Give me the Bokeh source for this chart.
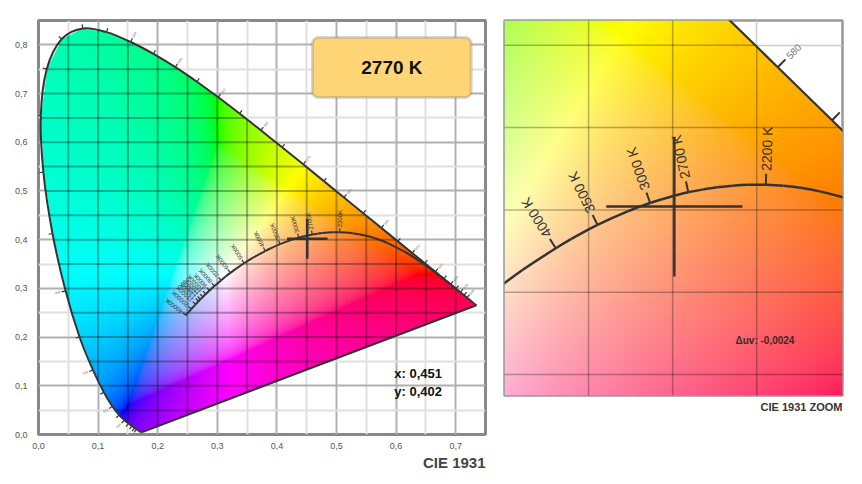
import numpy as np
from bokeh.plotting import figure
from bokeh.models import Range1d, FixedTicker, CustomJSTickFormatter, Title, Label, BoxAnnotation
from bokeh.layouts import row
from bokeh.core.properties import value
from bokeh.embed import file_html
from bokeh.resources import INLINE

# ---------------- data ----------------
WAVELENGTHS = [380, 385, 390, 395, 400, 405, 410, 415, 420, 425, 430, 435, 440, 445, 450, 455,
               460, 465, 470, 475, 480, 485, 490, 495, 500, 505, 510, 515, 520, 525, 530, 535,
               540, 545, 550, 555, 560, 565, 570, 575, 580, 585, 590, 595, 600, 605, 610, 615,
               620, 625, 630, 635, 640, 645, 650, 655, 660, 665, 670, 675, 680, 690, 700]
LOCUS_X = [0.1741, 0.1740, 0.1738, 0.1736, 0.1733, 0.1730, 0.1726, 0.1721, 0.1714, 0.1703,
           0.1689, 0.1669, 0.1644, 0.1611, 0.1566, 0.1510, 0.1440, 0.1355, 0.1241, 0.1096,
           0.0913, 0.0687, 0.0454, 0.0235, 0.0082, 0.0039, 0.0139, 0.0389, 0.0743, 0.1142,
           0.1547, 0.1929, 0.2296, 0.2658, 0.3016, 0.3373, 0.3731, 0.4087, 0.4441, 0.4788,
           0.5125, 0.5448, 0.5752, 0.6029, 0.6270, 0.6482, 0.6658, 0.6801, 0.6915, 0.7006,
           0.7079, 0.7140, 0.7190, 0.7230, 0.7260, 0.7283, 0.7300, 0.7311, 0.7320, 0.7327,
           0.7334, 0.7344, 0.7347]
LOCUS_Y = [0.0050, 0.0050, 0.0049, 0.0049, 0.0048, 0.0048, 0.0048, 0.0048, 0.0051, 0.0058,
           0.0069, 0.0086, 0.0109, 0.0138, 0.0177, 0.0227, 0.0297, 0.0399, 0.0578, 0.0868,
           0.1327, 0.2007, 0.2950, 0.4127, 0.5384, 0.6548, 0.7502, 0.8120, 0.8338, 0.8262,
           0.8059, 0.7816, 0.7543, 0.7243, 0.6923, 0.6589, 0.6245, 0.5896, 0.5547, 0.5202,
           0.4866, 0.4544, 0.4242, 0.3965, 0.3725, 0.3514, 0.3340, 0.3197, 0.3083, 0.2993,
           0.2920, 0.2859, 0.2809, 0.2770, 0.2740, 0.2717, 0.2700, 0.2689, 0.2680, 0.2673,
           0.2666, 0.2656, 0.2653]
WL_TICKS = list(range(440, 645, 5))
WL_LABELS = list(range(450, 645, 10))

PLANCK_T = [700, 800, 900, 1000, 1100, 1200, 1300, 1500, 1667, 1700, 1800, 1900, 2000, 2100,
            2200, 2300, 2400, 2500, 2600, 2700, 2800, 2900, 3000, 3200, 3500, 3800, 4000, 4500,
            5000, 5500, 6000, 6500, 7000, 8000, 9000, 10000, 11000, 12000, 13000, 15000,
            20000, 25000, 30000, 40000]
PLANCK_X = [0.6903, 0.6775, 0.6650, 0.6528, 0.6390, 0.6251, 0.6116, 0.5857, 0.5647, 0.5609,
            0.5496, 0.5381, 0.5269, 0.5160, 0.5054, 0.4953, 0.4857, 0.4765, 0.4677, 0.4593,
            0.4514, 0.4438, 0.4366, 0.4232, 0.4053, 0.3898, 0.3805, 0.3607, 0.3450, 0.3323,
            0.3220, 0.3135, 0.3064, 0.2952, 0.2870, 0.2807, 0.2758, 0.2718, 0.2686, 0.2637,
            0.2564, 0.2525, 0.2498, 0.2472]
PLANCK_Y = [0.3091, 0.3214, 0.3333, 0.3444, 0.3563, 0.3674, 0.3770, 0.3931, 0.4029, 0.4043,
            0.4081, 0.4111, 0.4133, 0.4146, 0.4152, 0.4152, 0.4147, 0.4137, 0.4123, 0.4107,
            0.4087, 0.4065, 0.4042, 0.3991, 0.3909, 0.3824, 0.3767, 0.3635, 0.3516, 0.3410,
            0.3318, 0.3237, 0.3165, 0.3048, 0.2956, 0.2883, 0.2824, 0.2776, 0.2735, 0.2672,
            0.2576, 0.2523, 0.2487, 0.2447]
PLANCK_LABELS = [2200, 2700, 3000, 3500, 4000, 5000, 6000, 7000, 8000, 9000, 10000, 11000,
                 12000, 13000, 15000, 20000, 40000]

POINT_X = 0.451
POINT_Y = 0.402
CCT = 2770
DUV = -0.0024

X_TICKS = [0.0, 0.1, 0.2, 0.3, 0.4, 0.5, 0.6, 0.7]
X_MINOR = [0.05, 0.15, 0.25, 0.35, 0.45, 0.55, 0.65]
Y_TICKS = [0.0, 0.1, 0.2, 0.3, 0.4, 0.5, 0.6, 0.7, 0.8]
Y_MINOR = [0.05, 0.15, 0.25, 0.35, 0.45, 0.55, 0.65, 0.75]
MAIN_X = (0.0, 0.75)
MAIN_Y = (0.0, 0.85)
ZOOM_X = (0.35, 0.551)
ZOOM_Y = (0.2873, 0.515)
ZOOM_GRID_X = [0.40, 0.45, 0.50]
ZOOM_GRID_Y = [0.30, 0.35, 0.40, 0.45, 0.50]

FONT = "Liberation Sans"
LX = np.array(LOCUS_X); LY = np.array(LOCUS_Y)


def point_in_poly(px, py, vx, vy):
    res = np.zeros(px.shape, dtype=bool)
    n = len(vx)
    j = n - 1
    with np.errstate(divide="ignore", invalid="ignore"):
        for i in range(n):
            cross = (vy[i] > py) != (vy[j] > py)
            xint = (vx[j] - vx[i]) * (py - vy[i]) / (vy[j] - vy[i]) + vx[i]
            res ^= cross & (px < xint)
            j = i
    return res


def chroma_image(xr, yr, nx, ny):
    xs = xr[0] + (np.arange(nx) + 0.5) * (xr[1] - xr[0]) / nx
    ys = yr[0] + (np.arange(ny) + 0.5) * (yr[1] - yr[0]) / ny
    X, Y = np.meshgrid(xs, ys)
    ins = point_in_poly(X, Y, LX, LY)
    yy = np.maximum(Y, 1e-4)
    Xc = X / yy
    Zc = (1 - X - Y) / yy
    r = 3.2406 * Xc - 1.5372 - 0.4986 * Zc
    g = -0.9689 * Xc + 1.8758 + 0.0415 * Zc
    b = 0.0557 * Xc - 0.2040 + 1.0570 * Zc
    m = np.minimum(np.minimum(np.minimum(r, g), b), 0)
    r, g, b = r - m, g - m, b - m
    mx = np.maximum(np.maximum(np.maximum(r, g), b), 1e-9)
    out = []
    for c in (r / mx, g / mx, b / mx):
        c = np.clip(c, 0, 1)
        c = np.where(c <= 0.0031308, 12.92 * c, 1.055 * np.power(c, 1 / 2.4) - 0.055)
        out.append((c * 255).astype(np.uint8))
    img = np.zeros((ny, nx), dtype=np.uint32)
    v = img.view(dtype=np.uint8).reshape((ny, nx, 4))
    v[..., 0] = out[0]; v[..., 1] = out[1]; v[..., 2] = out[2]
    v[..., 3] = np.where(ins, 255, 0).astype(np.uint8)
    return img


def inside_span(c, vertical):
    px = np.r_[LX, LX[0]]; py = np.r_[LY, LY[0]]
    a = px if vertical else py
    o = py if vertical else px
    hits = []
    for i in range(len(a) - 1):
        if a[i] == a[i + 1]:
            continue
        if (a[i] - c) * (a[i + 1] - c) <= 0:
            t = (c - a[i]) / (a[i + 1] - a[i])
            hits.append(o[i] + t * (o[i + 1] - o[i]))
    if len(hits) < 2:
        return None
    return min(hits), max(hits)


def normal(xs, ys, i, sx, sy):
    j0 = max(i - 1, 0); j1 = min(i + 1, len(xs) - 1)
    tx = (xs[j1] - xs[j0]) * sx
    ty = (ys[j1] - ys[j0]) * sy
    L = np.hypot(tx, ty)
    return -ty / L, tx / L


def inr(x, y, xr, yr):
    return xr[0] <= x <= xr[1] and yr[0] <= y <= yr[1]


def smooth_curve(p, xs, ys, **kw):
    """Draw a smooth (Catmull-Rom style) curve through the given data points."""
    xs = np.asarray(xs, dtype=float); ys = np.asarray(ys, dtype=float)
    n = len(xs)
    i = np.arange(n - 1)
    i0 = np.maximum(i - 1, 0)
    i3 = np.minimum(i + 2, n - 1)
    cx0 = xs[i] + (xs[i + 1] - xs[i0]) / 6.0
    cy0 = ys[i] + (ys[i + 1] - ys[i0]) / 6.0
    cx1 = xs[i + 1] - (xs[i3] - xs[i]) / 6.0
    cy1 = ys[i + 1] - (ys[i3] - ys[i]) / 6.0
    p.bezier(x0=xs[:-1], y0=ys[:-1], x1=xs[1:], y1=ys[1:],
             cx0=cx0, cy0=cy0, cx1=cx1, cy1=cy1, **kw)


def draw(p, xr, yr, sx, sy, npx, cfg, gx, gy):
    img = chroma_image(xr, yr, npx[0], npx[1])
    p.image_rgba(image=[img], x=xr[0], y=yr[0], dw=xr[1] - xr[0], dh=yr[1] - yr[0])
    # darker grid over the coloured area
    x0s, y0s, x1s, y1s = [], [], [], []
    for c in gx:
        s = inside_span(c, True)
        if s:
            x0s.append(c); x1s.append(c); y0s.append(s[0]); y1s.append(s[1])
    for c in gy:
        s = inside_span(c, False)
        if s:
            y0s.append(c); y1s.append(c); x0s.append(s[0]); x1s.append(s[1])
    p.segment(x0s, y0s, x1s, y1s, line_color="black", line_alpha=cfg["grid_alpha"],
              line_width=cfg["grid_w"])
    # spectral locus and purple line
    smooth_curve(p, LOCUS_X, LOCUS_Y, line_color="#333333", line_width=cfg["locus_w"])
    p.line([LOCUS_X[-1], LOCUS_X[0]], [LOCUS_Y[-1], LOCUS_Y[0]],
           line_color="#333333", line_width=cfg["locus_w"])
    # wavelength ticks and labels
    tx0, ty0, tx1, ty1 = [], [], [], []
    lx, ly, lt, la = [], [], [], []
    fs = float(cfg["wl_font"].replace("px", ""))
    for wl in WL_TICKS:
        i = WAVELENGTHS.index(wl)
        nx_, ny_ = normal(LOCUS_X, LOCUS_Y, i, sx, sy)
        tx0.append(LOCUS_X[i]); ty0.append(LOCUS_Y[i])
        tx1.append(LOCUS_X[i] + nx_ * cfg["wl_tick"] / sx)
        ty1.append(LOCUS_Y[i] + ny_ * cfg["wl_tick"] / sy)
        if wl in WL_LABELS:
            d = cfg["wl_tick"] + cfg["wl_gap"]
            e = d + 1.8 * fs
            ax_, ay_ = LOCUS_X[i] + nx_ * d / sx, LOCUS_Y[i] + ny_ * d / sy
            ex_, ey_ = LOCUS_X[i] + nx_ * e / sx, LOCUS_Y[i] + ny_ * e / sy
            if inr(ax_, ay_, xr, yr) and inr(ex_, ey_, xr, yr):
                lx.append(ax_); ly.append(ay_)
                lt.append(str(wl)); la.append(float(np.arctan2(ny_, nx_)))
    p.segment(tx0, ty0, tx1, ty1, line_color="#333333", line_width=cfg["tick_w"])
    p.text(x=lx, y=ly, text=lt, angle=la, text_align="left", text_baseline="middle",
           text_font=value(FONT), text_font_size=value(cfg["wl_font"]), text_color="#777777")
    # Planckian locus
    smooth_curve(p, PLANCK_X, PLANCK_Y, line_color="#333333", line_width=cfg["planck_w"])
    tx0, ty0, tx1, ty1 = [], [], [], []
    lx, ly, lt, la = [], [], [], []
    for T in PLANCK_LABELS:
        i = PLANCK_T.index(T)
        nx_, ny_ = normal(PLANCK_X, PLANCK_Y, i, sx, sy)
        nx_, ny_ = -nx_, -ny_
        if not inr(PLANCK_X[i], PLANCK_Y[i], xr, yr):
            continue
        tx0.append(PLANCK_X[i]); ty0.append(PLANCK_Y[i])
        tx1.append(PLANCK_X[i] + nx_ * cfg["pl_tick"] / sx)
        ty1.append(PLANCK_Y[i] + ny_ * cfg["pl_tick"] / sy)
        d = cfg["pl_tick"] + cfg["pl_gap"]
        lx.append(PLANCK_X[i] + nx_ * d / sx); ly.append(PLANCK_Y[i] + ny_ * d / sy)
        lt.append(cfg["pl_fmt"].format(T)); la.append(float(np.arctan2(ny_, nx_)))
    p.segment(tx0, ty0, tx1, ty1, line_color="#333333", line_width=cfg["tick_w"])
    p.text(x=lx, y=ly, text=lt, angle=la, text_align="left", text_baseline="middle",
           text_font=value(FONT), text_font_size=value(cfg["pl_font"]), text_color="#333333")
    # crosshair
    hx, hy = cfg["cross"]
    p.segment([POINT_X - hx, POINT_X], [POINT_Y, POINT_Y - hy],
              [POINT_X + hx, POINT_X], [POINT_Y, POINT_Y + hy],
              line_color="#333333", line_width=cfg["cross_w"])


# ---------------- main diagram ----------------
p1 = figure(width=491, height=484, x_range=Range1d(*MAIN_X), y_range=Range1d(*MAIN_Y),
            output_backend="svg", toolbar_location=None,
            min_border_left=38, min_border_right=6, min_border_top=20, min_border_bottom=50)
p1.background_fill_color = "white"
p1.border_fill_color = "white"
p1.outline_line_color = "#888888"
p1.outline_line_width = 3
p1.xaxis.ticker = FixedTicker(ticks=X_TICKS, minor_ticks=X_MINOR)
p1.yaxis.ticker = FixedTicker(ticks=Y_TICKS, minor_ticks=Y_MINOR)
fmt = CustomJSTickFormatter(code="return tick.toFixed(1).replace('.', ',');")
for ax in (p1.xaxis[0], p1.yaxis[0]):
    ax.formatter = fmt
    ax.axis_line_color = None
    ax.major_tick_line_color = None
    ax.minor_tick_line_color = None
    ax.major_label_text_font_size = "9px"
    ax.major_label_text_color = "#555555"
    ax.major_label_text_font = FONT
p1.xaxis[0].major_label_standoff = 2
p1.yaxis[0].major_label_standoff = 5
for g in (p1.xgrid[0], p1.ygrid[0]):
    g.grid_line_color = "#b0b0b0"
    g.grid_line_width = 2
    g.minor_grid_line_color = "#e0e0e0"
    g.minor_grid_line_width = 2

SX1 = 447 / (MAIN_X[1] - MAIN_X[0])
SY1 = 414 / (MAIN_Y[1] - MAIN_Y[0])
cfg1 = dict(grid_alpha=0.3, grid_w=2, locus_w=2, tick_w=1.2, wl_tick=4, wl_gap=1,
            wl_font="3.5px", planck_w=2, pl_tick=4, pl_gap=1, pl_font="6px", pl_fmt="{}K",
            cross=(0.034, 0.041), cross_w=2.5)
draw(p1, MAIN_X, MAIN_Y, SX1, SY1, (448, 415), cfg1,
     [c for c in sorted(X_TICKS + X_MINOR) if c > 0], [c for c in sorted(Y_TICKS + Y_MINOR) if c > 0])

p1.add_layout(BoxAnnotation(left=0.4596, right=0.726, bottom=0.692, top=0.815,
                            fill_color="#FFD576", fill_alpha=1.0, line_color="#7a7a7a",
                            line_width=3, border_radius=6))
p1.add_layout(Label(x=0.593, y=0.7535, text=f"{CCT} K", text_align="center",
                    text_baseline="middle", text_font=FONT, text_font_size="19px",
                    text_font_style="bold", text_color="#111111"))
p1.add_layout(Label(x=0.597, y=0.125, text="x: " + f"{POINT_X:.3f}".replace(".", ","),
                    text_align="left", text_baseline="middle", text_font=FONT,
                    text_font_size="13px", text_font_style="bold", text_color="#111111"))
p1.add_layout(Label(x=0.597, y=0.088, text="y: " + f"{POINT_Y:.3f}".replace(".", ","),
                    text_align="left", text_baseline="middle", text_font=FONT,
                    text_font_size="13px", text_font_style="bold", text_color="#111111"))
p1.add_layout(Title(text="CIE 1931", align="right", text_font=FONT, text_font_size="15px",
                    text_font_style="bold", text_color="#444444", standoff=0), "below")

# ---------------- zoom ----------------
p2 = figure(width=371, height=445, x_range=Range1d(*ZOOM_X), y_range=Range1d(*ZOOM_Y),
            output_backend="svg", toolbar_location=None,
            x_axis_location=None, y_axis_location=None,
            min_border_left=13, min_border_right=20, min_border_top=20, min_border_bottom=50)
p2.background_fill_color = "white"
p2.border_fill_color = "white"
p2.outline_line_color = "#999999"
p2.outline_line_width = 2.5
p2.xgrid[0].ticker = FixedTicker(ticks=ZOOM_GRID_X)
p2.ygrid[0].ticker = FixedTicker(ticks=ZOOM_GRID_Y)
for g in (p2.xgrid[0], p2.ygrid[0]):
    g.grid_line_color = "#cccccc"
    g.grid_line_width = 1.5

SX2 = 338 / (ZOOM_X[1] - ZOOM_X[0])
SY2 = 375 / (ZOOM_Y[1] - ZOOM_Y[0])
cfg2 = dict(grid_alpha=0.28, grid_w=1.5, locus_w=2.2, tick_w=2, wl_tick=11, wl_gap=3,
            wl_font="10px", planck_w=2.5, pl_tick=11, pl_gap=3, pl_font="14px",
            pl_fmt="{} K", cross=(0.0405, 0.0424), cross_w=2.5)
draw(p2, ZOOM_X, ZOOM_Y, SX2, SY2, (338, 376), cfg2, ZOOM_GRID_X, ZOOM_GRID_Y)

p2.add_layout(Label(x=0.4874, y=0.3206, text="\u0394uv: " + f"{DUV:.4f}".replace(".", ","),
                    text_align="left", text_baseline="middle", text_font=FONT,
                    text_font_size="10px", text_font_style="bold", text_color="#3a2a2a"))
p2.add_layout(Title(text="CIE 1931 ZOOM", align="right", text_font=FONT, text_font_size="11px",
                    text_font_style="bold", text_color="#333333", standoff=6), "below")

layout = row(p1, p2)
open("out.html", "w").write(file_html(layout, INLINE))
